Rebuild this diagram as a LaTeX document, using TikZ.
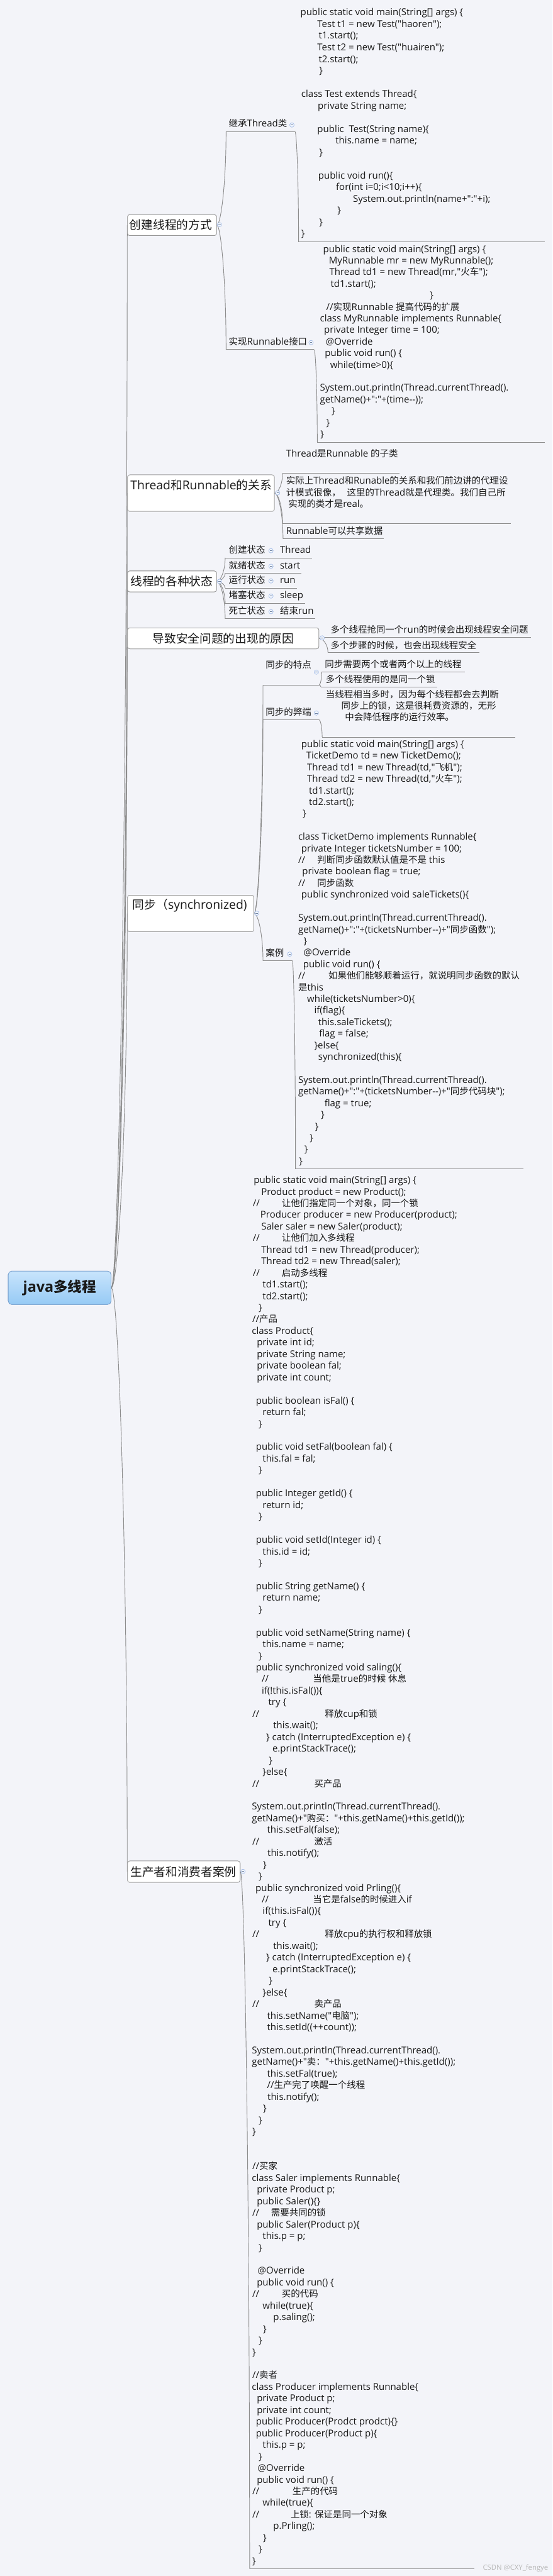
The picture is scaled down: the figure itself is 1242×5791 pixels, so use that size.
\documentclass[tikz,border=0pt]{standalone}
\usepackage{fontspec}
\setmainfont{Open Sans}[Ligatures=TeXOff]
\newfontfamily\cjkfont{Noto Sans CJK SC}[Scale=0.965]
\usetikzlibrary{calc}
\XeTeXinterchartokenstate=1
\newXeTeXintercharclass\CJKcls
\newcount\cjkc
\def\setcjkrange#1#2{\cjkc=#1\relax\loop\XeTeXcharclass\cjkc=\CJKcls\relax\ifnum\cjkc<#2\relax\advance\cjkc by 1\relax\repeat}
\setcjkrange{"3000}{"303F}
\setcjkrange{"4E00}{"9FFF}
\setcjkrange{"FF00}{"FFEF}
\XeTeXinterchartoks 0 \CJKcls = {\begingroup\cjkfont}
\XeTeXinterchartoks 4095 \CJKcls = {\begingroup\cjkfont}
\XeTeXinterchartoks \CJKcls 0 = {\endgroup}
\XeTeXinterchartoks \CJKcls 4095 = {\endgroup}

\definecolor{bg}{RGB}{243,244,249}
\definecolor{linec}{RGB}{140,140,140}
\definecolor{boxc}{RGB}{150,150,150}
\definecolor{txt}{RGB}{25,25,25}
\definecolor{togc}{RGB}{160,185,230}
\definecolor{togf}{RGB}{240,245,253}
\definecolor{roottop}{RGB}{200,228,252}
\definecolor{rootbot}{RGB}{150,202,245}
\definecolor{rootdraw}{RGB}{120,160,205}
\definecolor{wm}{RGB}{185,185,185}

\tikzset{
  conn/.style={draw=linec, line width=1.3pt},
  ul/.style={draw=linec, line width=1.3pt},
  codetxt/.style={anchor=west, inner sep=0pt, text=txt, font=\fontsize{21.2}{26}\selectfont, execute at begin node=\strut},
  lbl/.style={anchor=west, inner sep=0pt, text=txt, font=\fontsize{21.2}{26}\selectfont, execute at begin node=\strut},
  mainbox/.style={draw=boxc, fill=white, rounded corners=5pt, line width=1.1pt, inner sep=0pt, anchor=north west},
  maintxt/.style={anchor=west, inner sep=0pt, text=txt, font=\fontsize{27.4}{32}\selectfont},
  rootbox/.style={draw=rootdraw, top color=roottop, bottom color=rootbot, rounded corners=8pt, line width=1.1pt, inner sep=0pt, anchor=north west},
  roottxt/.style={inner sep=0pt, text=txt, font=\bfseries\fontsize{33}{38}\selectfont},
  tog/.style={circle, draw=togc, fill=togf, line width=0.9pt, minimum size=10pt, inner sep=0pt,
    path picture={\draw[togc!70!black, line width=0.9pt] ([xshift=-2.6pt]path picture bounding box.center) -- ([xshift=2.6pt]path picture bounding box.center);}}
}
\newcounter{nn}
\newcommand\codeln[3]{\stepcounter{nn}\node[codetxt] (c\arabic{nn}) at ({#1},{\cb+(#2)*\cs}) {#3};}
\newcommand\lblat[3]{\stepcounter{nn}\node[lbl] (l\arabic{nn}) at (#1,#2) {#3};}
\newcommand\togat[2]{\stepcounter{nn}\node[tog] (g\arabic{nn}) at (#1,#2) {};}
\newcommand\conn[2]{\draw[conn] (#1) .. controls ($(#1)!0.45!(#1 -| #2)$) and ($(#2)!0.55!(#2 |- #1)$) .. (#2);}

\begin{document}
\begin{tikzpicture}[x=1pt,y=-1pt]
\fill[bg] (0,0) rectangle (1242,5791);
\useasboundingbox (0,0) rectangle (1242,5791);

% ---------- boxes (nodes) ----------
\node[rootbox, minimum width=231pt, minimum height=75pt] (root) at (18,2857) {};
\node[mainbox, minimum width=200pt, minimum height=47pt] (m1) at (286,482) {};
\node[mainbox, minimum width=330pt, minimum height=82pt] (m2) at (286,1067) {};
\node[mainbox, minimum width=200pt, minimum height=47pt] (m3) at (286,1283) {};
\node[mainbox, minimum width=430pt, minimum height=47pt] (m4) at (286,1411) {};
\node[mainbox, minimum width=284pt, minimum height=82pt] (m5) at (286,2012) {};
\node[mainbox, minimum width=253pt, minimum height=48pt] (m6) at (286,4183) {};

% ---------- underline end points ----------
\coordinate (lu1) at (508,296);   \coordinate (ru1) at (663,296);
\coordinate (luA) at (671,544);   \coordinate (ruA) at (1224,544);
\coordinate (lu2) at (508,786);   \coordinate (ru2) at (706,786);
\coordinate (luB) at (713,994);   \coordinate (ruB) at (1224,994);
\coordinate (lu3) at (635,1064);  \coordinate (ru3) at (898,1064);
\coordinate (lu4) at (635,1177);  \coordinate (ru4) at (1148,1177);
\coordinate (lu5) at (636,1211);  \coordinate (ru5) at (862,1211);
\coordinate (ls1) at (506,1254);  \coordinate (rs1) at (701,1254);
\coordinate (ls2) at (506,1288);  \coordinate (rs2) at (677,1288);
\coordinate (ls3) at (506,1322);  \coordinate (rs3) at (668,1322);
\coordinate (ls4) at (506,1357);  \coordinate (rs4) at (685,1357);
\coordinate (ls5) at (506,1391);  \coordinate (rs5) at (708,1391);
\coordinate (ld1) at (730,1433);  \coordinate (rd1) at (1193,1433);
\coordinate (ld2) at (737,1467);  \coordinate (rd2) at (1077,1467);
\coordinate (ly1) at (591,1540);  \coordinate (ry1) at (717,1540);
\coordinate (ly1a) at (723,1510); \coordinate (ry1a) at (1045,1510);
\coordinate (ly1b) at (721,1544); \coordinate (ry1b) at (982,1544);
\coordinate (ly2) at (591,1618);  \coordinate (ry2) at (717,1618);
\coordinate (ly2a) at (724,1657); \coordinate (ry2a) at (1158,1657);
\coordinate (ly3) at (591,2160);  \coordinate (ry3) at (657,2160);
\coordinate (luC) at (664,2628);  \coordinate (ruC) at (1176,2628);
\coordinate (luD) at (561,5775);  \coordinate (ruD) at (1066,5775);

% ---------- connectors ----------
\begin{scope}[on background layer/.style={}]
\conn{root.east}{m1.west}
\conn{root.east}{m2.west}
\conn{root.east}{m3.west}
\conn{root.east}{m4.west}
\conn{root.east}{m5.west}
\conn{root.east}{m6.west}
\conn{m1.east}{lu1}
\conn{m1.east}{lu2}
\conn{ru1}{luA}
\conn{ru2}{luB}
\conn{m2.east}{lu3}
\conn{m2.east}{lu4}
\conn{m2.east}{lu5}
\conn{m3.east}{ls1}
\conn{m3.east}{ls2}
\conn{m3.east}{ls3}
\conn{m3.east}{ls4}
\conn{m3.east}{ls5}
\conn{m4.east}{ld1}
\conn{m4.east}{ld2}
\conn{m5.east}{ly1}
\conn{m5.east}{ly2}
\conn{m5.east}{ly3}
\conn{ry1}{ly1a}
\conn{ry1}{ly1b}
\conn{ry2}{ly2a}
\conn{ry3}{luC}
\conn{m6.east}{luD}
\end{scope}
\foreach \n in {u1,uA,u2,uB,u3,u4,u5,s1,s2,s3,s4,s5,d1,d2,y1,y1a,y1b,y2,y2a,y3,uC,uD}
  {\draw[ul] (l\n) -- (r\n);}

% redraw boxes on top of connectors
\node[rootbox, minimum width=231pt, minimum height=75pt] (rootf) at (18,2857) {};
\node[mainbox, minimum width=200pt, minimum height=47pt] (m1f) at (286,482) {};
\node[mainbox, minimum width=330pt, minimum height=82pt] (m2f) at (286,1067) {};
\node[mainbox, minimum width=200pt, minimum height=47pt] (m3f) at (286,1283) {};
\node[mainbox, minimum width=430pt, minimum height=47pt] (m4f) at (286,1411) {};
\node[mainbox, minimum width=284pt, minimum height=82pt] (m5f) at (286,2012) {};
\node[mainbox, minimum width=253pt, minimum height=48pt] (m6f) at (286,4183) {};

% ---------- main texts ----------
\node[roottxt] (roott) at (rootf.center) {java多线程};
\node[maintxt] (m1t) at (291,505) {创建线程的方式};
\node[maintxt] (m2t) at (293,1090) {Thread和Runnable的关系};
\node[maintxt] (m3t) at (293,1307) {线程的各种状态};
\node[maintxt] (m4t) at (343,1435) {导致安全问题的出现的原因};
\node[maintxt] (m5t) at (298,2035) {同步（synchronized)};
\node[maintxt] (m6t) at (293,4208) {生产者和消费者案例};

% ---------- toggles ----------
\togat{493}{505}
\togat{624}{1108}
\togat{493}{1307}
\togat{724}{1434}
\togat{577}{2053}
\togat{546}{4207}
\togat{656}{281}
\togat{699}{770}
\togat{609}{1238}
\togat{609}{1273}
\togat{609}{1306}
\togat{609}{1340}
\togat{609}{1375}
\togat{711}{1511}
\togat{711}{1603}
\togat{651}{2145}

% ---------- labels ----------
\lblat{514}{280}{继承Thread类}
\lblat{514}{770}{实现Runnable接口}
\lblat{643}{1022}{Thread是Runnable 的子类}
\lblat{643}{1083}{实际上Thread和Runable的关系和我们前边讲的代理设}
\lblat{643}{1109}{计模式很像，\hspace{14pt}这里的Thread就是代理类。我们自己所}
\lblat{648}{1135}{实现的类才是real。}
\lblat{643}{1196}{Runnable可以共享数据}
\lblat{514}{1238}{创建状态}
\lblat{629}{1238}{Thread}
\lblat{514}{1273}{就绪状态}
\lblat{629}{1273}{start}
\lblat{514}{1306}{运行状态}
\lblat{629}{1306}{run}
\lblat{514}{1340}{堵塞状态}
\lblat{629}{1340}{sleep}
\lblat{514}{1375}{死亡状态}
\lblat{629}{1375}{结束run}
\lblat{743}{1418}{多个线程抢同一个run的时候会出现线程安全问题}
\lblat{743}{1453}{多个步骤的时候，也会出现线程安全}
\lblat{597}{1497}{同步的特点}
\lblat{730}{1495}{同步需要两个或者两个以上的线程}
\lblat{732}{1529}{多个线程使用的是同一个锁}
\lblat{597}{1603}{同步的弊端}
\lblat{732}{1563}{当线程相当多时，因为每个线程都会去判断}
\lblat{767}{1589}{同步上的锁，这是很耗费资源的，无形}
\lblat{775}{1615}{中会降低程序的运行效率。}
\lblat{597}{2145}{案例}

% ---------- code block A ----------
\def\cb{30}\def\cs{26.2}
\codeln{675}{0}{public static void main(String[] args) \{}
\codeln{713}{1}{Test t1 = new Test("haoren");}
\codeln{716}{2}{t1.start();}
\codeln{713}{3}{Test t2 = new Test("huairen");}
\codeln{716}{4}{t2.start();}
\codeln{717}{5}{\}}
\codeln{677}{7}{class Test extends Thread\{}
\codeln{714}{8}{private String name;}
\codeln{713}{10}{public\ \ Test(String name)\{}
\codeln{754}{11}{this.name = name;}
\codeln{717}{12}{\}}
\codeln{715}{14}{public void run()\{}
\codeln{755}{15}{for(int i=0;i<10;i++)\{}
\codeln{793}{16}{System.out.println(name+":"+i);}
\codeln{758}{17}{\}}
\codeln{717}{18}{\}}
\codeln{677}{19}{\}}

% ---------- code block B ----------
\def\cb{562}\def\cs{26}
\codeln{726}{0}{public static void main(String[] args) \{}
\codeln{739}{1}{MyRunnable mr = new MyRunnable();}
\codeln{740}{2}{Thread td1 = new Thread(mr,"火车");}
\codeln{743}{3}{td1.start();}
\codeln{966}{4}{\}}
\codeln{733}{5}{//实现Runnable 提高代码的扩展}
\codeln{719}{6}{class MyRunnable implements Runnable\{}
\codeln{728}{7}{private Integer time = 100;}
\codeln{732}{8}{@Override}
\codeln{730}{9}{public void run() \{}
\codeln{742}{10}{while(time>0)\{}
\codeln{719}{12}{System.out.println(Thread.currentThread().}
\codeln{719}{13}{getName()+":"+(time--));}
\codeln{745}{14}{\}}
\codeln{733}{15}{\}}
\codeln{720}{16}{\}}

% ---------- code block C ----------
\def\cb{1675}\def\cs{26.03}
\codeln{677}{0}{public static void main(String[] args) \{}
\codeln{688}{1}{TicketDemo td = new TicketDemo();}
\codeln{690}{2}{Thread td1 = new Thread(td,"飞机");}
\codeln{690}{3}{Thread td2 = new Thread(td,"火车");}
\codeln{694}{4}{td1.start();}
\codeln{694}{5}{td2.start();}
\codeln{680}{6}{\}}
\codeln{670}{8}{class TicketDemo implements Runnable\{}
\codeln{677}{9}{private Integer ticketsNumber = 100;}
\codeln{670}{10}{\rlap{//}\hspace*{43pt}判断同步函数默认值是不是 this}
\codeln{679}{11}{private boolean flag = true;}
\codeln{670}{12}{\rlap{//}\hspace*{43pt}同步函数}
\codeln{677}{13}{public synchronized void saleTickets()\{}
\codeln{670}{15}{System.out.println(Thread.currentThread().}
\codeln{670}{16}{getName()+":"+(ticketsNumber--)+"同步函数");}
\codeln{682}{17}{\}}
\codeln{682}{18}{@Override}
\codeln{681}{19}{public void run() \{}
\codeln{670}{20}{\rlap{//}\hspace*{68pt}如果他们能够顺着运行，就说明同步函数的默认}
\codeln{670}{21}{是this}
\codeln{690}{22}{while(ticketsNumber>0)\{}
\codeln{706}{23}{if(flag)\{}
\codeln{715}{24}{this.saleTickets();}
\codeln{717}{25}{flag = false;}
\codeln{706}{26}{\}else\{}
\codeln{715}{27}{synchronized(this)\{}
\codeln{670}{29}{System.out.println(Thread.currentThread().}
\codeln{670}{30}{getName()+":"+(ticketsNumber--)+"同步代码块");}
\codeln{729}{31}{flag = true;}
\codeln{721}{32}{\}}
\codeln{708}{33}{\}}
\codeln{696}{34}{\}}
\codeln{684}{35}{\}}
\codeln{672}{36}{\}}

% ---------- code block D ----------
\def\cb{2655}\def\cs{26.085}
\codeln{570}{0}{public static void main(String[] args) \{}
\codeln{587}{1}{Product product = new Product();}
\codeln{568}{2}{\rlap{//}\hspace*{65pt}让他们指定同一个对象，同一个锁}
\codeln{585}{3}{Producer producer = new Producer(product);}
\codeln{587}{4}{Saler saler = new Saler(product);}
\codeln{568}{5}{\rlap{//}\hspace*{65pt}让他们加入多线程}
\codeln{587}{6}{Thread td1 = new Thread(producer);}
\codeln{587}{7}{Thread td2 = new Thread(saler);}
\codeln{568}{8}{\rlap{//}\hspace*{65pt}启动多线程}
\codeln{590}{9}{td1.start();}
\codeln{590}{10}{td2.start();}
\codeln{581}{11}{\}}
\codeln{567}{12}{//产品}
\codeln{566}{13}{class Product\{}
\codeln{577}{14}{private int id;}
\codeln{577}{15}{private String name;}
\codeln{577}{16}{private boolean fal;}
\codeln{577}{17}{private int count;}
\codeln{575}{19}{public boolean isFal() \{}
\codeln{590}{20}{return fal;}
\codeln{581}{21}{\}}
\codeln{575}{23}{public void setFal(boolean fal) \{}
\codeln{590}{24}{this.fal = fal;}
\codeln{581}{25}{\}}
\codeln{575}{27}{public Integer getId() \{}
\codeln{590}{28}{return id;}
\codeln{581}{29}{\}}
\codeln{575}{31}{public void setId(Integer id) \{}
\codeln{590}{32}{this.id = id;}
\codeln{581}{33}{\}}
\codeln{575}{35}{public String getName() \{}
\codeln{590}{36}{return name;}
\codeln{581}{37}{\}}
\codeln{575}{39}{public void setName(String name) \{}
\codeln{590}{40}{this.name = name;}
\codeln{581}{41}{\}}
\codeln{575}{42}{public synchronized void saling()\{}
\codeln{588}{43}{\rlap{//}\hspace*{115pt}当他是true的时候 休息}
\codeln{588}{44}{if(!this.isFal())\{}
\codeln{603}{45}{try \{}
\codeln{567}{46}{\rlap{//}\hspace*{163pt}释放cup和锁}
\codeln{614}{47}{this.wait();}
\codeln{598}{48}{\} catch (InterruptedException e) \{}
\codeln{612}{49}{e.printStackTrace();}
\codeln{604}{50}{\}}
\codeln{590}{51}{\}else\{}
\codeln{567}{52}{\rlap{//}\hspace*{139pt}买产品}
\codeln{566}{54}{System.out.println(Thread.currentThread().}
\codeln{566}{55}{getName()+"购买："+this.getName()+this.getId());}
\codeln{600}{56}{this.setFal(false);}
\codeln{567}{57}{\rlap{//}\hspace*{139pt}激活}
\codeln{601}{58}{this.notify();}
\codeln{591}{59}{\}}
\codeln{581}{60}{\}}
\codeln{574}{61}{public synchronized void Prling()\{}
\codeln{588}{62}{\rlap{//}\hspace*{115pt}当它是false的时候进入if}
\codeln{590}{63}{if(this.isFal())\{}
\codeln{603}{64}{try \{}
\codeln{567}{65}{\rlap{//}\hspace*{163pt}释放cpu的执行权和释放锁}
\codeln{614}{66}{this.wait();}
\codeln{598}{67}{\} catch (InterruptedException e) \{}
\codeln{612}{68}{e.printStackTrace();}
\codeln{604}{69}{\}}
\codeln{590}{70}{\}else\{}
\codeln{567}{71}{\rlap{//}\hspace*{139pt}卖产品}
\codeln{600}{72}{this.setName("电脑");}
\codeln{600}{73}{this.setId((++count));}
\codeln{566}{75}{System.out.println(Thread.currentThread().}
\codeln{566}{76}{getName()+"卖："+this.getName()+this.getId());}
\codeln{600}{77}{this.setFal(true);}
\codeln{600}{78}{//生产完了唤醒一个线程}
\codeln{601}{79}{this.notify();}
\codeln{591}{80}{\}}
\codeln{581}{81}{\}}
\codeln{567}{82}{\}}
\codeln{567}{85}{//买家}
\codeln{566}{86}{class Saler implements Runnable\{}
\codeln{577}{87}{private Product p;}
\codeln{577}{88}{public Saler()\{\}}
\codeln{567}{89}{\rlap{//}\hspace*{42pt}需要共同的锁}
\codeln{577}{90}{public Saler(Product p)\{}
\codeln{590}{91}{this.p = p;}
\codeln{581}{92}{\}}
\codeln{579}{94}{@Override}
\codeln{577}{95}{public void run() \{}
\codeln{567}{96}{\rlap{//}\hspace*{66pt}买的代码}
\codeln{590}{97}{while(true)\{}
\codeln{614}{98}{p.saling();}
\codeln{591}{99}{\}}
\codeln{581}{100}{\}}
\codeln{567}{101}{\}}
\codeln{567}{103}{//卖者}
\codeln{566}{104}{class Producer implements Runnable\{}
\codeln{577}{105}{private Product p;}
\codeln{577}{106}{private int count;}
\codeln{575}{107}{public Producer(Prodct prodct)\{\}}
\codeln{575}{108}{public Producer(Product p)\{}
\codeln{590}{109}{this.p = p;}
\codeln{581}{110}{\}}
\codeln{579}{111}{@Override}
\codeln{577}{112}{public void run() \{}
\codeln{567}{113}{\rlap{//}\hspace*{90pt}生产的代码}
\codeln{590}{114}{while(true)\{}
\codeln{567}{115}{\rlap{//}\hspace*{86pt}上锁: 保证是同一个对象}
\codeln{614}{116}{p.Prling();}
\codeln{591}{117}{\}}
\codeln{581}{118}{\}}
\codeln{567}{119}{\}}

% watermark
\node[anchor=west, inner sep=0pt, text=wm, font=\fontsize{16}{19}\selectfont] (wmark) at (1085,5773) {CSDN @CXY\_fengye};
\end{tikzpicture}
\end{document}
